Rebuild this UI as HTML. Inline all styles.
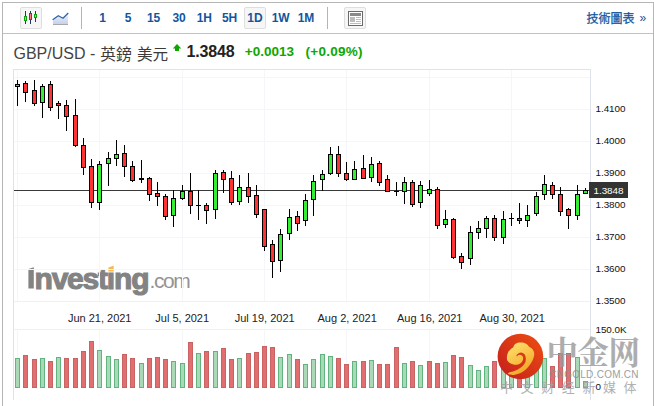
<!DOCTYPE html>
<html><head><meta charset="utf-8"><title>GBP/USD</title>
<style>
html,body{margin:0;padding:0;background:#fff}
body{width:654px;height:406px;position:relative;overflow:hidden;font-family:"Liberation Sans",sans-serif}
.abs{position:absolute}
#frame{left:2px;top:2px;width:650px;height:420px;border:1px solid #b6b6b6}
#tbline{left:3px;top:33px;width:650px;height:1px;background:#c2c2c2}
.btn{width:20px;height:20px;border:1px solid #dedede;background:#f6f6f6;border-radius:2px}
.sep{width:1px;height:22px;background:#b4b4b4;top:7px}
.tf{top:11px;font-size:12px;font-weight:bold;color:#1256a0;width:40px;text-align:center;line-height:14px}
svg text{font-family:"Liberation Sans",sans-serif}
#chart{left:0;top:0}
.t{white-space:nowrap}
</style></head><body>
<div id="frame" class="abs"></div>
<div id="tbline" class="abs"></div>
<div class="abs btn" style="left:20px;top:7px"></div>
<div class="abs btn" style="left:244px;top:7px"></div>
<div class="abs btn" style="left:344px;top:7px"></div>
<div class="abs sep" style="left:81px"></div>
<div class="abs sep" style="left:327px"></div>
<div class="abs tf" style="left:82.6px">1</div>
<div class="abs tf" style="left:108.1px">5</div>
<div class="abs tf" style="left:133.6px">15</div>
<div class="abs tf" style="left:159.1px">30</div>
<div class="abs tf" style="left:184.3px">1H</div>
<div class="abs tf" style="left:209.6px">5H</div>
<div class="abs tf" style="left:235.0px">1D</div>
<div class="abs tf" style="left:260.7px">1W</div>
<div class="abs tf" style="left:286.0px">1M</div>

<div class="abs t" style="left:639.5px;top:11px;font-size:12px;line-height:14px;color:#1256a0">&raquo;</div>
<div class="abs t" style="left:13.5px;top:44px;font-size:16px;line-height:20px;color:#444">GBP/USD -</div>
<div class="abs t" style="left:186.5px;top:42px;font-size:16px;line-height:20px;font-weight:bold;color:#222;letter-spacing:-0.15px">1.3848</div>
<div class="abs t" style="left:244.8px;top:43.3px;font-size:13.5px;line-height:18px;font-weight:bold;color:#0ea600">+0.0013</div>
<div class="abs t" style="left:305.6px;top:43.3px;font-size:13.5px;letter-spacing:0.25px;line-height:18px;font-weight:bold;color:#0ea600">(+0.09%)</div>
<div class="abs t" id="inv" style="left:34.5px;top:261.5px;font-size:30px;line-height:34px;font-weight:bold;color:#838383;-webkit-text-stroke:1.1px #838383;letter-spacing:-1.2px">nvest&#305;ng</div>
<div class="abs t" id="com" style="left:149.6px;top:267.5px;font-size:21px;line-height:26px;color:#939393;letter-spacing:-1.45px">.com</div>
<svg id="chart" class="abs" width="654" height="406" viewBox="0 0 654 406">

<g shape-rendering="crispEdges">
<rect x="25" y="11" width="1" height="13" fill="#1f3b63"/><rect x="24" y="16" width="3" height="5" fill="#12a012"/><rect x="25" y="17" width="1" height="3" fill="#7fe07f"/>
<rect x="30" y="11" width="1" height="13" fill="#1f3b63"/><rect x="29" y="13" width="3" height="7" fill="#d01515"/><rect x="30" y="14" width="1" height="5" fill="#ff7a7a"/>
<rect x="35" y="11" width="1" height="11" fill="#1f3b63"/><rect x="34" y="14" width="3" height="4" fill="#12a012"/><rect x="35" y="15" width="1" height="2" fill="#7fe07f"/>
</g>
<defs><linearGradient id="lg" x1="0" y1="0" x2="0" y2="1"><stop offset="0" stop-color="#eef2fa"/><stop offset="1" stop-color="#c6d2ec"/></linearGradient></defs>
<path d="M53 19.5 L58.3 15.7 L63 18.2 L68 13.3 L68 24 L53 24 Z" fill="url(#lg)"/>
<rect x="53" y="24" width="15" height="1" fill="#a8a8a8"/>
<path d="M53 19.5 L58.3 15.7 L63 18.2 L68 13.3" fill="none" stroke="#2b62a8" stroke-width="1.2" stroke-linejoin="round" stroke-linecap="round"/>
<g shape-rendering="crispEdges">
<rect x="348" y="11" width="15" height="15" fill="#fff" stroke="none"/>
<rect x="348" y="11" width="15" height="1" fill="#6a6a6a"/><rect x="348" y="25" width="15" height="1" fill="#6a6a6a"/><rect x="348" y="11" width="1" height="15" fill="#6a6a6a"/><rect x="362" y="11" width="1" height="15" fill="#6a6a6a"/>
<rect x="350" y="13" width="11" height="3" fill="#8a8a8a"/>
<rect x="350" y="17" width="5" height="5" fill="#bdbdbd"/>
<rect x="356" y="17" width="5" height="1" fill="#bdbdbd"/><rect x="356" y="19" width="5" height="1" fill="#bdbdbd"/><rect x="356" y="21" width="5" height="1" fill="#bdbdbd"/>
<rect x="350" y="23" width="11" height="1" fill="#bdbdbd"/>
</g>
<polygon points="177,43.9 181.3,48.6 179,48.6 179,51 175,51 175,48.6 172.8,48.6" fill="#0ea600"/>
<polygon points="108.4,271.6 113.7,271.6 113.7,265.8 108.4,267.6" fill="#fab648"/>
<polygon points="28.4,269 33.8,267.3 33.8,288.6 28.4,288.6" fill="#838383"/>

<rect x="17" y="70" width="1" height="231" fill="#f5f6f9"/><rect x="17" y="330" width="1" height="58" fill="#f5f6f9"/><rect x="99" y="70" width="1" height="231" fill="#f5f6f9"/><rect x="99" y="330" width="1" height="58" fill="#f5f6f9"/><rect x="182" y="70" width="1" height="231" fill="#f5f6f9"/><rect x="182" y="330" width="1" height="58" fill="#f5f6f9"/><rect x="264" y="70" width="1" height="231" fill="#f5f6f9"/><rect x="264" y="330" width="1" height="58" fill="#f5f6f9"/><rect x="346" y="70" width="1" height="231" fill="#f5f6f9"/><rect x="346" y="330" width="1" height="58" fill="#f5f6f9"/><rect x="429" y="70" width="1" height="231" fill="#f5f6f9"/><rect x="429" y="330" width="1" height="58" fill="#f5f6f9"/><rect x="511" y="70" width="1" height="231" fill="#f5f6f9"/><rect x="511" y="330" width="1" height="58" fill="#f5f6f9"/><rect x="14" y="77" width="576" height="1" fill="#f5f6f9"/><rect x="14" y="109" width="576" height="1" fill="#f5f6f9"/><rect x="14" y="141" width="576" height="1" fill="#f5f6f9"/><rect x="14" y="173" width="576" height="1" fill="#f5f6f9"/><rect x="14" y="205" width="576" height="1" fill="#f5f6f9"/><rect x="14" y="237" width="576" height="1" fill="#f5f6f9"/><rect x="14" y="269" width="576" height="1" fill="#f5f6f9"/><rect x="13" y="69" width="1" height="331" fill="#dfe3ec"/><rect x="590" y="69" width="1" height="331" fill="#dfe3ec"/><rect x="13" y="69" width="578" height="1" fill="#dfe3ec"/><rect x="14" y="301" width="576" height="1" fill="#eef0f5"/><rect x="14" y="329" width="576" height="1" fill="#eef0f5"/><rect x="15" y="358" width="5" height="30" fill="#62b47e"/><rect x="16" y="359" width="3" height="28" fill="#a9d9b7"/><rect x="23" y="355" width="5" height="33" fill="#c96363"/><rect x="24" y="356" width="3" height="31" fill="#e26f6f"/><rect x="32" y="359" width="5" height="29" fill="#c96363"/><rect x="33" y="360" width="3" height="27" fill="#e26f6f"/><rect x="40" y="358" width="5" height="30" fill="#62b47e"/><rect x="41" y="359" width="3" height="28" fill="#a9d9b7"/><rect x="48" y="361" width="5" height="27" fill="#c96363"/><rect x="49" y="362" width="3" height="25" fill="#e26f6f"/><rect x="56" y="357" width="5" height="31" fill="#62b47e"/><rect x="57" y="358" width="3" height="29" fill="#a9d9b7"/><rect x="64" y="358" width="5" height="30" fill="#c96363"/><rect x="65" y="359" width="3" height="28" fill="#e26f6f"/><rect x="73" y="358" width="5" height="30" fill="#c96363"/><rect x="74" y="359" width="3" height="28" fill="#e26f6f"/><rect x="81" y="351" width="5" height="37" fill="#c96363"/><rect x="82" y="352" width="3" height="35" fill="#e26f6f"/><rect x="89" y="341" width="5" height="47" fill="#c96363"/><rect x="90" y="342" width="3" height="45" fill="#e26f6f"/><rect x="97" y="350" width="5" height="38" fill="#62b47e"/><rect x="98" y="351" width="3" height="36" fill="#a9d9b7"/><rect x="106" y="356" width="5" height="32" fill="#62b47e"/><rect x="107" y="357" width="3" height="30" fill="#a9d9b7"/><rect x="114" y="359" width="5" height="29" fill="#62b47e"/><rect x="115" y="360" width="3" height="27" fill="#a9d9b7"/><rect x="122" y="354" width="5" height="34" fill="#c96363"/><rect x="123" y="355" width="3" height="32" fill="#e26f6f"/><rect x="130" y="358" width="5" height="30" fill="#c96363"/><rect x="131" y="359" width="3" height="28" fill="#e26f6f"/><rect x="139" y="363" width="5" height="25" fill="#62b47e"/><rect x="140" y="364" width="3" height="23" fill="#a9d9b7"/><rect x="147" y="358" width="5" height="30" fill="#c96363"/><rect x="148" y="359" width="3" height="28" fill="#e26f6f"/><rect x="155" y="357" width="5" height="31" fill="#c96363"/><rect x="156" y="358" width="3" height="29" fill="#e26f6f"/><rect x="163" y="359" width="5" height="29" fill="#c96363"/><rect x="164" y="360" width="3" height="27" fill="#e26f6f"/><rect x="171" y="361" width="5" height="27" fill="#62b47e"/><rect x="172" y="362" width="3" height="25" fill="#a9d9b7"/><rect x="180" y="363" width="5" height="25" fill="#62b47e"/><rect x="181" y="364" width="3" height="23" fill="#a9d9b7"/><rect x="188" y="342" width="5" height="46" fill="#c96363"/><rect x="189" y="343" width="3" height="44" fill="#e26f6f"/><rect x="196" y="353" width="5" height="35" fill="#62b47e"/><rect x="197" y="354" width="3" height="33" fill="#a9d9b7"/><rect x="204" y="351" width="5" height="37" fill="#c96363"/><rect x="205" y="352" width="3" height="35" fill="#e26f6f"/><rect x="213" y="351" width="5" height="37" fill="#62b47e"/><rect x="214" y="352" width="3" height="35" fill="#a9d9b7"/><rect x="221" y="348" width="5" height="40" fill="#c96363"/><rect x="222" y="349" width="3" height="38" fill="#e26f6f"/><rect x="229" y="359" width="5" height="29" fill="#c96363"/><rect x="230" y="360" width="3" height="27" fill="#e26f6f"/><rect x="237" y="358" width="5" height="30" fill="#62b47e"/><rect x="238" y="359" width="3" height="28" fill="#a9d9b7"/><rect x="246" y="353" width="5" height="35" fill="#c96363"/><rect x="247" y="354" width="3" height="33" fill="#e26f6f"/><rect x="254" y="352" width="5" height="36" fill="#c96363"/><rect x="255" y="353" width="3" height="34" fill="#e26f6f"/><rect x="262" y="346" width="5" height="42" fill="#c96363"/><rect x="263" y="347" width="3" height="40" fill="#e26f6f"/><rect x="270" y="347" width="5" height="41" fill="#c96363"/><rect x="271" y="348" width="3" height="39" fill="#e26f6f"/><rect x="278" y="357" width="5" height="31" fill="#62b47e"/><rect x="279" y="358" width="3" height="29" fill="#a9d9b7"/><rect x="287" y="354" width="5" height="34" fill="#62b47e"/><rect x="288" y="355" width="3" height="32" fill="#a9d9b7"/><rect x="295" y="359" width="5" height="29" fill="#c96363"/><rect x="296" y="360" width="3" height="27" fill="#e26f6f"/><rect x="303" y="364" width="5" height="24" fill="#62b47e"/><rect x="304" y="365" width="3" height="22" fill="#a9d9b7"/><rect x="311" y="359" width="5" height="29" fill="#62b47e"/><rect x="312" y="360" width="3" height="27" fill="#a9d9b7"/><rect x="320" y="354" width="5" height="34" fill="#62b47e"/><rect x="321" y="355" width="3" height="32" fill="#a9d9b7"/><rect x="328" y="356" width="5" height="32" fill="#62b47e"/><rect x="329" y="357" width="3" height="30" fill="#a9d9b7"/><rect x="336" y="358" width="5" height="30" fill="#c96363"/><rect x="337" y="359" width="3" height="28" fill="#e26f6f"/><rect x="344" y="364" width="5" height="24" fill="#c96363"/><rect x="345" y="365" width="3" height="22" fill="#e26f6f"/><rect x="352" y="361" width="5" height="27" fill="#62b47e"/><rect x="353" y="362" width="3" height="25" fill="#a9d9b7"/><rect x="361" y="361" width="5" height="27" fill="#c96363"/><rect x="362" y="362" width="3" height="25" fill="#e26f6f"/><rect x="369" y="360" width="5" height="28" fill="#62b47e"/><rect x="370" y="361" width="3" height="26" fill="#a9d9b7"/><rect x="377" y="364" width="5" height="24" fill="#c96363"/><rect x="378" y="365" width="3" height="22" fill="#e26f6f"/><rect x="385" y="364" width="5" height="24" fill="#c96363"/><rect x="386" y="365" width="3" height="22" fill="#e26f6f"/><rect x="394" y="347" width="5" height="41" fill="#c96363"/><rect x="395" y="348" width="3" height="39" fill="#e26f6f"/><rect x="402" y="363" width="5" height="25" fill="#62b47e"/><rect x="403" y="364" width="3" height="23" fill="#a9d9b7"/><rect x="410" y="361" width="5" height="27" fill="#c96363"/><rect x="411" y="362" width="3" height="25" fill="#e26f6f"/><rect x="418" y="365" width="5" height="23" fill="#62b47e"/><rect x="419" y="366" width="3" height="21" fill="#a9d9b7"/><rect x="427" y="361" width="5" height="27" fill="#c96363"/><rect x="428" y="362" width="3" height="25" fill="#e26f6f"/><rect x="435" y="363" width="5" height="25" fill="#c96363"/><rect x="436" y="364" width="3" height="23" fill="#e26f6f"/><rect x="443" y="362" width="5" height="26" fill="#62b47e"/><rect x="444" y="363" width="3" height="24" fill="#a9d9b7"/><rect x="451" y="355" width="5" height="33" fill="#c96363"/><rect x="452" y="356" width="3" height="31" fill="#e26f6f"/><rect x="459" y="357" width="5" height="31" fill="#c96363"/><rect x="460" y="358" width="3" height="29" fill="#e26f6f"/><rect x="468" y="365" width="5" height="23" fill="#62b47e"/><rect x="469" y="366" width="3" height="21" fill="#a9d9b7"/><rect x="476" y="370" width="5" height="18" fill="#62b47e"/><rect x="477" y="371" width="3" height="16" fill="#a9d9b7"/><rect x="484" y="366" width="5" height="22" fill="#62b47e"/><rect x="485" y="367" width="3" height="20" fill="#a9d9b7"/><rect x="492" y="361" width="5" height="27" fill="#c96363"/><rect x="493" y="362" width="3" height="25" fill="#e26f6f"/><rect x="501" y="362" width="5" height="26" fill="#62b47e"/><rect x="502" y="363" width="3" height="24" fill="#a9d9b7"/><rect x="509" y="365" width="5" height="23" fill="#62b47e"/><rect x="510" y="366" width="3" height="21" fill="#a9d9b7"/><rect x="517" y="360" width="5" height="28" fill="#c96363"/><rect x="518" y="361" width="3" height="26" fill="#e26f6f"/><rect x="525" y="364" width="5" height="24" fill="#62b47e"/><rect x="526" y="365" width="3" height="22" fill="#a9d9b7"/><rect x="534" y="366" width="5" height="22" fill="#62b47e"/><rect x="535" y="367" width="3" height="20" fill="#a9d9b7"/><rect x="542" y="358" width="5" height="30" fill="#62b47e"/><rect x="543" y="359" width="3" height="28" fill="#a9d9b7"/><rect x="550" y="366" width="5" height="22" fill="#c96363"/><rect x="551" y="367" width="3" height="20" fill="#e26f6f"/><rect x="558" y="353" width="5" height="35" fill="#c96363"/><rect x="559" y="354" width="3" height="33" fill="#e26f6f"/><rect x="566" y="353" width="5" height="35" fill="#c96363"/><rect x="567" y="354" width="3" height="33" fill="#e26f6f"/><rect x="575" y="357" width="5" height="31" fill="#62b47e"/><rect x="576" y="358" width="3" height="29" fill="#a9d9b7"/><rect x="583" y="381" width="5" height="7" fill="#62b47e"/><rect x="584" y="382" width="3" height="5" fill="#a9d9b7"/><rect x="14" y="190" width="576" height="1" fill="#3a3a3a"/><rect x="17" y="80" width="1" height="26" fill="#000"/><rect x="15" y="84" width="5" height="3" fill="#000"/><rect x="16" y="85" width="3" height="1" fill="#33ee33"/><rect x="25" y="81" width="1" height="21" fill="#000"/><rect x="23" y="83" width="5" height="10" fill="#000"/><rect x="24" y="84" width="3" height="8" fill="#ff3333"/><rect x="34" y="80" width="1" height="26" fill="#000"/><rect x="32" y="90" width="5" height="14" fill="#000"/><rect x="33" y="91" width="3" height="12" fill="#ff3333"/><rect x="42" y="84" width="1" height="34" fill="#000"/><rect x="40" y="86" width="5" height="17" fill="#000"/><rect x="41" y="87" width="3" height="15" fill="#33ee33"/><rect x="50" y="81" width="1" height="30" fill="#000"/><rect x="48" y="84" width="5" height="24" fill="#000"/><rect x="49" y="85" width="3" height="22" fill="#ff3333"/><rect x="58" y="101" width="1" height="18" fill="#000"/><rect x="56" y="103" width="5" height="3" fill="#000"/><rect x="57" y="104" width="3" height="1" fill="#ff3333"/><rect x="66" y="100" width="1" height="31" fill="#000"/><rect x="64" y="105" width="5" height="12" fill="#000"/><rect x="65" y="106" width="3" height="10" fill="#ff3333"/><rect x="75" y="99" width="1" height="48" fill="#000"/><rect x="73" y="115" width="5" height="31" fill="#000"/><rect x="74" y="116" width="3" height="29" fill="#ff3333"/><rect x="83" y="138" width="1" height="37" fill="#000"/><rect x="81" y="145" width="5" height="23" fill="#000"/><rect x="82" y="146" width="3" height="21" fill="#ff3333"/><rect x="91" y="159" width="1" height="49" fill="#000"/><rect x="89" y="166" width="5" height="37" fill="#000"/><rect x="90" y="167" width="3" height="35" fill="#ff3333"/><rect x="99" y="161" width="1" height="49" fill="#000"/><rect x="97" y="164" width="5" height="39" fill="#000"/><rect x="98" y="165" width="3" height="37" fill="#33ee33"/><rect x="108" y="152" width="1" height="34" fill="#000"/><rect x="106" y="158" width="5" height="6" fill="#000"/><rect x="107" y="159" width="3" height="4" fill="#33ee33"/><rect x="116" y="140" width="1" height="26" fill="#000"/><rect x="114" y="154" width="5" height="5" fill="#000"/><rect x="115" y="155" width="3" height="3" fill="#33ee33"/><rect x="124" y="145" width="1" height="32" fill="#000"/><rect x="122" y="153" width="5" height="14" fill="#000"/><rect x="123" y="154" width="3" height="12" fill="#ff3333"/><rect x="132" y="161" width="1" height="21" fill="#000"/><rect x="130" y="166" width="5" height="15" fill="#000"/><rect x="131" y="167" width="3" height="13" fill="#ff3333"/><rect x="141" y="160" width="1" height="23" fill="#000"/><rect x="139" y="178" width="5" height="2" fill="#000"/><rect x="149" y="177" width="1" height="24" fill="#000"/><rect x="147" y="178" width="5" height="17" fill="#000"/><rect x="148" y="179" width="3" height="15" fill="#ff3333"/><rect x="157" y="182" width="1" height="24" fill="#000"/><rect x="155" y="193" width="5" height="4" fill="#000"/><rect x="156" y="194" width="3" height="2" fill="#ff3333"/><rect x="165" y="194" width="1" height="26" fill="#000"/><rect x="163" y="196" width="5" height="21" fill="#000"/><rect x="164" y="197" width="3" height="19" fill="#ff3333"/><rect x="173" y="190" width="1" height="37" fill="#000"/><rect x="171" y="198" width="5" height="18" fill="#000"/><rect x="172" y="199" width="3" height="16" fill="#33ee33"/><rect x="182" y="185" width="1" height="15" fill="#000"/><rect x="180" y="191" width="5" height="8" fill="#000"/><rect x="181" y="192" width="3" height="6" fill="#33ee33"/><rect x="190" y="173" width="1" height="41" fill="#000"/><rect x="188" y="191" width="5" height="15" fill="#000"/><rect x="189" y="192" width="3" height="13" fill="#ff3333"/><rect x="198" y="190" width="1" height="30" fill="#000"/><rect x="196" y="205" width="5" height="1" fill="#000"/><rect x="206" y="203" width="1" height="21" fill="#000"/><rect x="204" y="205" width="5" height="6" fill="#000"/><rect x="205" y="206" width="3" height="4" fill="#ff3333"/><rect x="215" y="170" width="1" height="49" fill="#000"/><rect x="213" y="173" width="5" height="37" fill="#000"/><rect x="214" y="174" width="3" height="35" fill="#33ee33"/><rect x="223" y="170" width="1" height="23" fill="#000"/><rect x="221" y="172" width="5" height="8" fill="#000"/><rect x="222" y="173" width="3" height="6" fill="#ff3333"/><rect x="231" y="171" width="1" height="34" fill="#000"/><rect x="229" y="178" width="5" height="25" fill="#000"/><rect x="230" y="179" width="3" height="23" fill="#ff3333"/><rect x="239" y="175" width="1" height="30" fill="#000"/><rect x="237" y="187" width="5" height="15" fill="#000"/><rect x="238" y="188" width="3" height="13" fill="#33ee33"/><rect x="248" y="173" width="1" height="30" fill="#000"/><rect x="246" y="187" width="5" height="10" fill="#000"/><rect x="247" y="188" width="3" height="8" fill="#ff3333"/><rect x="256" y="185" width="1" height="33" fill="#000"/><rect x="254" y="195" width="5" height="20" fill="#000"/><rect x="255" y="196" width="3" height="18" fill="#ff3333"/><rect x="264" y="209" width="1" height="42" fill="#000"/><rect x="262" y="209" width="5" height="38" fill="#000"/><rect x="263" y="210" width="3" height="36" fill="#ff3333"/><rect x="272" y="240" width="1" height="38" fill="#000"/><rect x="270" y="244" width="5" height="18" fill="#000"/><rect x="271" y="245" width="3" height="16" fill="#ff3333"/><rect x="280" y="229" width="1" height="43" fill="#000"/><rect x="278" y="234" width="5" height="27" fill="#000"/><rect x="279" y="235" width="3" height="25" fill="#33ee33"/><rect x="289" y="209" width="1" height="31" fill="#000"/><rect x="287" y="217" width="5" height="17" fill="#000"/><rect x="288" y="218" width="3" height="15" fill="#33ee33"/><rect x="297" y="211" width="1" height="20" fill="#000"/><rect x="295" y="216" width="5" height="8" fill="#000"/><rect x="296" y="217" width="3" height="6" fill="#ff3333"/><rect x="305" y="194" width="1" height="32" fill="#000"/><rect x="303" y="200" width="5" height="21" fill="#000"/><rect x="304" y="201" width="3" height="19" fill="#33ee33"/><rect x="313" y="175" width="1" height="41" fill="#000"/><rect x="311" y="181" width="5" height="19" fill="#000"/><rect x="312" y="182" width="3" height="17" fill="#33ee33"/><rect x="322" y="170" width="1" height="21" fill="#000"/><rect x="320" y="174" width="5" height="6" fill="#000"/><rect x="321" y="175" width="3" height="4" fill="#33ee33"/><rect x="330" y="147" width="1" height="28" fill="#000"/><rect x="328" y="154" width="5" height="20" fill="#000"/><rect x="329" y="155" width="3" height="18" fill="#33ee33"/><rect x="338" y="146" width="1" height="31" fill="#000"/><rect x="336" y="154" width="5" height="20" fill="#000"/><rect x="337" y="155" width="3" height="18" fill="#ff3333"/><rect x="346" y="162" width="1" height="19" fill="#000"/><rect x="344" y="173" width="5" height="7" fill="#000"/><rect x="345" y="174" width="3" height="5" fill="#ff3333"/><rect x="354" y="161" width="1" height="19" fill="#000"/><rect x="352" y="169" width="5" height="11" fill="#000"/><rect x="353" y="170" width="3" height="9" fill="#33ee33"/><rect x="363" y="155" width="1" height="24" fill="#000"/><rect x="361" y="168" width="5" height="11" fill="#000"/><rect x="362" y="169" width="3" height="9" fill="#ff3333"/><rect x="371" y="157" width="1" height="25" fill="#000"/><rect x="369" y="164" width="5" height="14" fill="#000"/><rect x="370" y="165" width="3" height="12" fill="#33ee33"/><rect x="379" y="161" width="1" height="25" fill="#000"/><rect x="377" y="163" width="5" height="20" fill="#000"/><rect x="378" y="164" width="3" height="18" fill="#ff3333"/><rect x="387" y="175" width="1" height="17" fill="#000"/><rect x="385" y="179" width="5" height="13" fill="#000"/><rect x="386" y="180" width="3" height="11" fill="#ff3333"/><rect x="396" y="182" width="1" height="14" fill="#000"/><rect x="394" y="191" width="5" height="1" fill="#000"/><rect x="404" y="177" width="1" height="27" fill="#000"/><rect x="402" y="182" width="5" height="10" fill="#000"/><rect x="403" y="183" width="3" height="8" fill="#33ee33"/><rect x="412" y="180" width="1" height="27" fill="#000"/><rect x="410" y="182" width="5" height="23" fill="#000"/><rect x="411" y="183" width="3" height="21" fill="#ff3333"/><rect x="420" y="181" width="1" height="27" fill="#000"/><rect x="418" y="185" width="5" height="18" fill="#000"/><rect x="419" y="186" width="3" height="16" fill="#33ee33"/><rect x="429" y="180" width="1" height="16" fill="#000"/><rect x="427" y="189" width="5" height="5" fill="#000"/><rect x="428" y="190" width="3" height="3" fill="#33ee33"/><rect x="437" y="187" width="1" height="42" fill="#000"/><rect x="435" y="189" width="5" height="37" fill="#000"/><rect x="436" y="190" width="3" height="35" fill="#ff3333"/><rect x="445" y="210" width="1" height="18" fill="#000"/><rect x="443" y="219" width="5" height="6" fill="#000"/><rect x="444" y="220" width="3" height="4" fill="#33ee33"/><rect x="453" y="218" width="1" height="41" fill="#000"/><rect x="451" y="219" width="5" height="39" fill="#000"/><rect x="452" y="220" width="3" height="37" fill="#ff3333"/><rect x="461" y="253" width="1" height="16" fill="#000"/><rect x="459" y="256" width="5" height="7" fill="#000"/><rect x="460" y="257" width="3" height="5" fill="#ff3333"/><rect x="470" y="226" width="1" height="39" fill="#000"/><rect x="468" y="232" width="5" height="27" fill="#000"/><rect x="469" y="233" width="3" height="25" fill="#33ee33"/><rect x="478" y="221" width="1" height="18" fill="#000"/><rect x="476" y="228" width="5" height="5" fill="#000"/><rect x="477" y="229" width="3" height="3" fill="#33ee33"/><rect x="486" y="216" width="1" height="22" fill="#000"/><rect x="484" y="218" width="5" height="11" fill="#000"/><rect x="485" y="219" width="3" height="9" fill="#33ee33"/><rect x="494" y="215" width="1" height="26" fill="#000"/><rect x="492" y="218" width="5" height="20" fill="#000"/><rect x="493" y="219" width="3" height="18" fill="#ff3333"/><rect x="503" y="211" width="1" height="33" fill="#000"/><rect x="501" y="219" width="5" height="19" fill="#000"/><rect x="502" y="220" width="3" height="17" fill="#33ee33"/><rect x="511" y="213" width="1" height="13" fill="#000"/><rect x="509" y="218" width="5" height="1" fill="#000"/><rect x="519" y="203" width="1" height="21" fill="#000"/><rect x="517" y="218" width="5" height="3" fill="#000"/><rect x="518" y="219" width="3" height="1" fill="#ff3333"/><rect x="527" y="205" width="1" height="22" fill="#000"/><rect x="525" y="215" width="5" height="6" fill="#000"/><rect x="526" y="216" width="3" height="4" fill="#33ee33"/><rect x="536" y="192" width="1" height="24" fill="#000"/><rect x="534" y="196" width="5" height="18" fill="#000"/><rect x="535" y="197" width="3" height="16" fill="#33ee33"/><rect x="544" y="175" width="1" height="25" fill="#000"/><rect x="542" y="184" width="5" height="11" fill="#000"/><rect x="543" y="185" width="3" height="9" fill="#33ee33"/><rect x="552" y="182" width="1" height="17" fill="#000"/><rect x="550" y="185" width="5" height="10" fill="#000"/><rect x="551" y="186" width="3" height="8" fill="#ff3333"/><rect x="560" y="187" width="1" height="29" fill="#000"/><rect x="558" y="194" width="5" height="18" fill="#000"/><rect x="559" y="195" width="3" height="16" fill="#ff3333"/><rect x="568" y="208" width="1" height="21" fill="#000"/><rect x="566" y="209" width="5" height="7" fill="#000"/><rect x="567" y="210" width="3" height="5" fill="#ff3333"/><rect x="577" y="185" width="1" height="35" fill="#000"/><rect x="575" y="194" width="5" height="22" fill="#000"/><rect x="576" y="195" width="3" height="20" fill="#33ee33"/><rect x="585" y="188" width="1" height="6" fill="#000"/><rect x="583" y="190" width="5" height="4" fill="#000"/><rect x="584" y="191" width="3" height="2" fill="#33ee33"/><rect x="589" y="182" width="39" height="16" fill="#333"/><text x="595.4" y="112.2" font-size="9.9" fill="#111" text-anchor="start" font-weight="normal" >1.4100</text><text x="595.4" y="144.2" font-size="9.9" fill="#111" text-anchor="start" font-weight="normal" >1.4000</text><text x="595.4" y="176.2" font-size="9.9" fill="#111" text-anchor="start" font-weight="normal" >1.3900</text><text x="595.4" y="208.2" font-size="9.9" fill="#111" text-anchor="start" font-weight="normal" >1.3800</text><text x="595.4" y="240.2" font-size="9.9" fill="#111" text-anchor="start" font-weight="normal" >1.3700</text><text x="595.4" y="272.2" font-size="9.9" fill="#111" text-anchor="start" font-weight="normal" >1.3600</text><text x="595.4" y="304.2" font-size="9.9" fill="#111" text-anchor="start" font-weight="normal" >1.3500</text><text x="595.4" y="333.4" font-size="9.9" fill="#111" text-anchor="start" font-weight="normal" >150.0K</text><text x="595.4" y="389.9" font-size="9.9" fill="#111" text-anchor="start" font-weight="normal" >0</text><text x="593.4" y="194.0" font-size="9.9" fill="#fff" text-anchor="start" font-weight="normal" >1.3848</text><text x="99.7" y="322" font-size="11" fill="#222" text-anchor="middle" font-weight="normal" >Jun 21, 2021</text><text x="182.2" y="322" font-size="11" fill="#222" text-anchor="middle" font-weight="normal" >Jul 5, 2021</text><text x="264.7" y="322" font-size="11" fill="#222" text-anchor="middle" font-weight="normal" >Jul 19, 2021</text><text x="347.2" y="322" font-size="11" fill="#222" text-anchor="middle" font-weight="normal" >Aug 2, 2021</text><text x="429.7" y="322" font-size="11" fill="#222" text-anchor="middle" font-weight="normal" >Aug 16, 2021</text><text x="512.2" y="322" font-size="11" fill="#222" text-anchor="middle" font-weight="normal" >Aug 30, 2021</text><defs><linearGradient id="rg" x1="0.9" y1="0.1" x2="0.15" y2="0.85"><stop offset="0" stop-color="#ea4a12"/><stop offset="1" stop-color="#c9241c"/></linearGradient><linearGradient id="yg" x1="0.2" y1="0" x2="0.7" y2="1"><stop offset="0" stop-color="#ffe070"/><stop offset="1" stop-color="#f2a21e"/></linearGradient></defs><circle cx="520.4" cy="356.5" r="22.8" fill="url(#rg)"/><path fill="url(#yg)" d="M507.86 373.23 C507.79 373.54 507.76 373.99 508.69 374.26 C509.62 374.54 511.53 375.06 513.44 374.88 C515.36 374.71 518.10 374.12 520.17 373.23 C522.23 372.33 524.18 370.99 525.85 369.51 C527.52 368.02 528.99 366.06 530.20 364.34 C531.40 362.61 532.42 360.78 533.09 359.16 C533.76 357.54 534.14 355.98 534.23 354.61 C534.32 353.25 534.11 352.10 533.61 350.99 C533.11 349.89 531.94 348.67 531.23 348.00 C530.52 347.32 529.99 347.50 529.37 346.96 C528.75 346.43 528.34 345.45 527.51 344.79 C526.68 344.14 525.54 343.39 524.41 343.03 C523.27 342.67 521.91 342.62 520.68 342.62 C519.46 342.62 518.10 342.67 517.06 343.03 C516.03 343.39 515.12 344.10 514.48 344.79 C513.84 345.48 513.84 346.48 513.24 347.17 C512.63 347.86 511.69 348.12 510.86 348.93 C510.03 349.74 508.91 350.82 508.27 352.03 C507.64 353.24 507.20 354.79 507.03 356.17 C506.86 357.54 506.77 359.15 507.24 360.30 C507.70 361.46 508.70 362.37 509.82 363.09 C510.94 363.82 512.58 364.42 513.96 364.65 C515.34 364.87 516.87 364.77 518.10 364.44 C519.32 364.11 520.49 363.46 521.30 362.68 C522.11 361.90 522.68 360.73 522.96 359.78 C523.23 358.84 523.20 357.75 522.96 356.99 C522.72 356.23 522.10 355.61 521.51 355.23 C520.92 354.86 520.08 354.68 519.44 354.72 C518.80 354.75 518.10 355.15 517.68 355.44 C517.27 355.73 517.15 356.51 516.96 356.48 C516.77 356.44 516.27 355.77 516.55 355.23 C516.82 354.70 517.72 353.70 518.61 353.27 C519.51 352.84 520.89 352.41 521.92 352.65 C522.96 352.89 524.16 353.70 524.82 354.72 C525.47 355.73 525.80 357.42 525.85 358.75 C525.90 360.08 525.70 361.42 525.13 362.68 C524.56 363.94 523.60 365.20 522.44 366.30 C521.29 367.40 519.77 368.44 518.20 369.30 C516.63 370.16 514.55 370.95 513.03 371.47 C511.51 371.99 509.96 372.11 509.10 372.40 C508.24 372.69 507.93 372.92 507.86 373.23 Z"/><text x="546.5 577.3 608.4" y="364.02" font-size="31.5" font-weight="bold" fill="#999999" opacity="0.8" style="font-family:'Liberation Serif','Noto Serif CJK SC',serif">中金网</text><text x="549.2 556.69 564.18 572.23 580.28 586.11 593.6 596.65 604.14 612.19 620.79 623.84 631.33" y="378" font-size="10" fill="#8e8e8e" opacity="0.85">CNGOLD.COM.CN</text><text x="500 520.6 541.2 561.8 582.4 603 623.6" y="392.44" font-size="13" fill="#a4a4a4" opacity="0.85" style="font-family:'Liberation Sans','Noto Sans CJK SC',sans-serif">中文财经新媒体</text><text x="586.6 598.6 610.6 622.6" y="22.66" font-size="12" fill="#1256a0" stroke="#1256a0" stroke-width="0.26" style="font-family:'Liberation Sans','Noto Sans CJK TC',sans-serif">技術圖表</text><text x="100.3 115.9" y="59.53" font-size="15.6" fill="#3a3a3a" style="font-family:'Liberation Sans','Noto Sans CJK TC',sans-serif">英鎊</text><text x="136.9 152.5" y="59.53" font-size="15.6" fill="#3a3a3a" style="font-family:'Liberation Sans','Noto Sans CJK TC',sans-serif">美元</text>
</svg>
</body></html>
